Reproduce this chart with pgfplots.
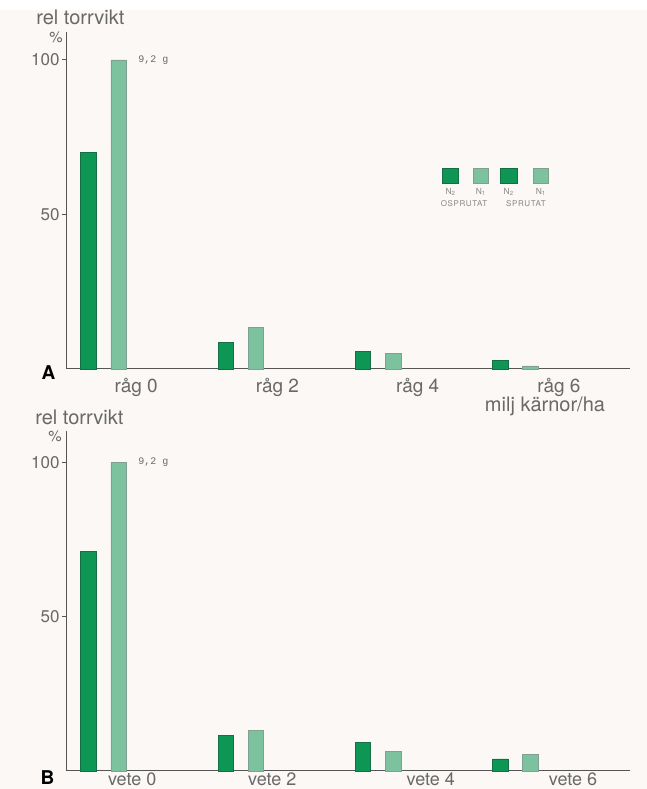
\documentclass[border=0pt]{standalone}
\usepackage{fontspec}
\setmainfont{TeX Gyre Heros}
\setmonofont{Liberation Mono}
\usepackage{pgfplots}
\pgfplotsset{compat=1.18}
\definecolor{darkg}{RGB}{14,150,84}
\definecolor{darkedge}{RGB}{20,110,70}
\definecolor{lightg}{RGB}{124,194,158}
\definecolor{lightedge}{RGB}{130,160,145}
\definecolor{textc}{RGB}{105,105,105}
\definecolor{axisc}{RGB}{85,85,85}
\definecolor{cream}{RGB}{251,248,245}
\pgfplotsset{panel/.style={
  scale only axis, width=281.5pt, anchor=south west,
  axis lines=left, axis line style={-, draw=axisc, line width=0.5pt},
  xmin=-0.157, xmax=3.945, ymin=0, enlargelimits=false,
  ytick={50,100}, tick align=outside, major tick length=2.5pt,
  ytick style={draw=axisc, line width=0.5pt},
  xtick style={draw=none},
  yticklabel style={font=\fontsize{8.5}{10}\selectfont, text=textc, inner sep=0pt, xshift=-1pt},
  /pgf/number format/assume math mode=true,
  ybar, bar width=0.113, bar shift=0pt,
  clip=false,
}}
\begin{document}
\begin{tikzpicture}
\fill[cream] (0pt,0pt) rectangle (323.5pt,389.5pt);
\fill[white] (0pt,389.5pt) rectangle (323.5pt,394.5pt);
\useasboundingbox (0pt,0pt) rectangle (323.5pt,394.5pt);
% Panel A
\begin{axis}[panel, at={(33.5pt,210pt)}, height=168.5pt, ymax=109.06,
  xtick={0.347,1.376,2.398,3.427}, xticklabels={råg 0,råg 2,råg 4,råg 6},
  xticklabel style={font=\fontsize{9.5}{11}\selectfont, text=textc, anchor=north, inner sep=0pt, yshift=-2pt}]
\addplot[fill=darkg, draw=darkedge, line width=0.4pt] coordinates {(0,70) (1,8.5) (2,5.6) (3,2.9)};
\addplot[fill=lightg, draw=lightedge, line width=0.4pt] coordinates {(0.22,100) (1.22,13.5) (2.22,5.1) (3.22,1.0)};
\node[anchor=west, inner sep=0pt, font=\ttfamily\fontsize{5}{6}\selectfont, text=textc] at (axis cs:0.361,100) {9,2 g};
\end{axis}
% Panel B
\begin{axis}[panel, at={(33.5pt,9pt)}, height=170pt, ymax=110.2,
  xtick={0.318,1.339,2.493,3.53}, xticklabels={vete 0,vete 2,vete 4,vete 6},
  xticklabel style={font=\fontsize{9}{10}\selectfont, text=textc, anchor=north, inner sep=0pt, yshift=1.8pt}]
\addplot[fill=darkg, draw=darkedge, line width=0.4pt] coordinates {(0,71.2) (1,11.5) (2,9.3) (3,3.9)};
\addplot[fill=lightg, draw=lightedge, line width=0.4pt] coordinates {(0.22,100) (1.22,13.1) (2.22,6.3) (3.22,5.5)};
\node[anchor=west, inner sep=0pt, font=\ttfamily\fontsize{5}{6}\selectfont, text=textc] at (axis cs:0.361,100) {9,2 g};
\end{axis}
% labels
\node[anchor=base west, inner sep=0pt, font=\fontsize{10}{12}\selectfont, text=textc] at (18pt,382pt) {rel torrvikt};
\node[anchor=base east, inner sep=0pt, font=\fontsize{7.5}{9}\selectfont, text=textc] at (31.5pt,373pt) {\%};
\node[inner sep=0pt, font=\bfseries\fontsize{9.5}{11}\selectfont] at (24.25pt,208.25pt) {A};
\node[anchor=base, inner sep=0pt, font=\fontsize{10}{12}\selectfont, text=textc] at (272.5pt,188.5pt) {milj kärnor/ha};
\node[anchor=base west, inner sep=0pt, font=\fontsize{10}{12}\selectfont, text=textc] at (17.5pt,182pt) {rel torrvikt};
\node[anchor=base east, inner sep=0pt, font=\fontsize{7.5}{9}\selectfont, text=textc] at (31pt,173.5pt) {\%};
\node[inner sep=0pt, font=\bfseries\fontsize{9.5}{11}\selectfont] at (23.75pt,5.5pt) {B};
% legend
\fill[darkg, draw=darkedge, line width=0.3pt] (221pt,302.9pt) rectangle (229.2pt,310.4pt);
\fill[lightg, draw=lightedge, line width=0.3pt] (236.4pt,302.9pt) rectangle (244.2pt,310.4pt);
\fill[darkg, draw=darkedge, line width=0.3pt] (250pt,302.9pt) rectangle (258.4pt,310.4pt);
\fill[lightg, draw=lightedge, line width=0.3pt] (266.4pt,302.9pt) rectangle (274.2pt,310.4pt);
\begin{scope}[every node/.style={inner sep=0pt, text=textc!80, font=\fontsize{4.2}{5}\selectfont}]
\node at (225.1pt,298.5pt) {N\raisebox{-0.35ex}{\fontsize{3}{3}\selectfont 2}};
\node at (240.3pt,298.5pt) {N\raisebox{-0.35ex}{\fontsize{3}{3}\selectfont 1}};
\node at (254.2pt,298.5pt) {N\raisebox{-0.35ex}{\fontsize{3}{3}\selectfont 2}};
\node at (270.3pt,298.5pt) {N\raisebox{-0.35ex}{\fontsize{3}{3}\selectfont 1}};
\node[font=\fontsize{4}{5}\selectfont\addfontfeatures{LetterSpace=8}] at (232pt,292.5pt) {OSPRUTAT};
\node[font=\fontsize{4}{5}\selectfont\addfontfeatures{LetterSpace=8}] at (263pt,292.5pt) {SPRUTAT};
\end{scope}
\end{tikzpicture}
\end{document}
